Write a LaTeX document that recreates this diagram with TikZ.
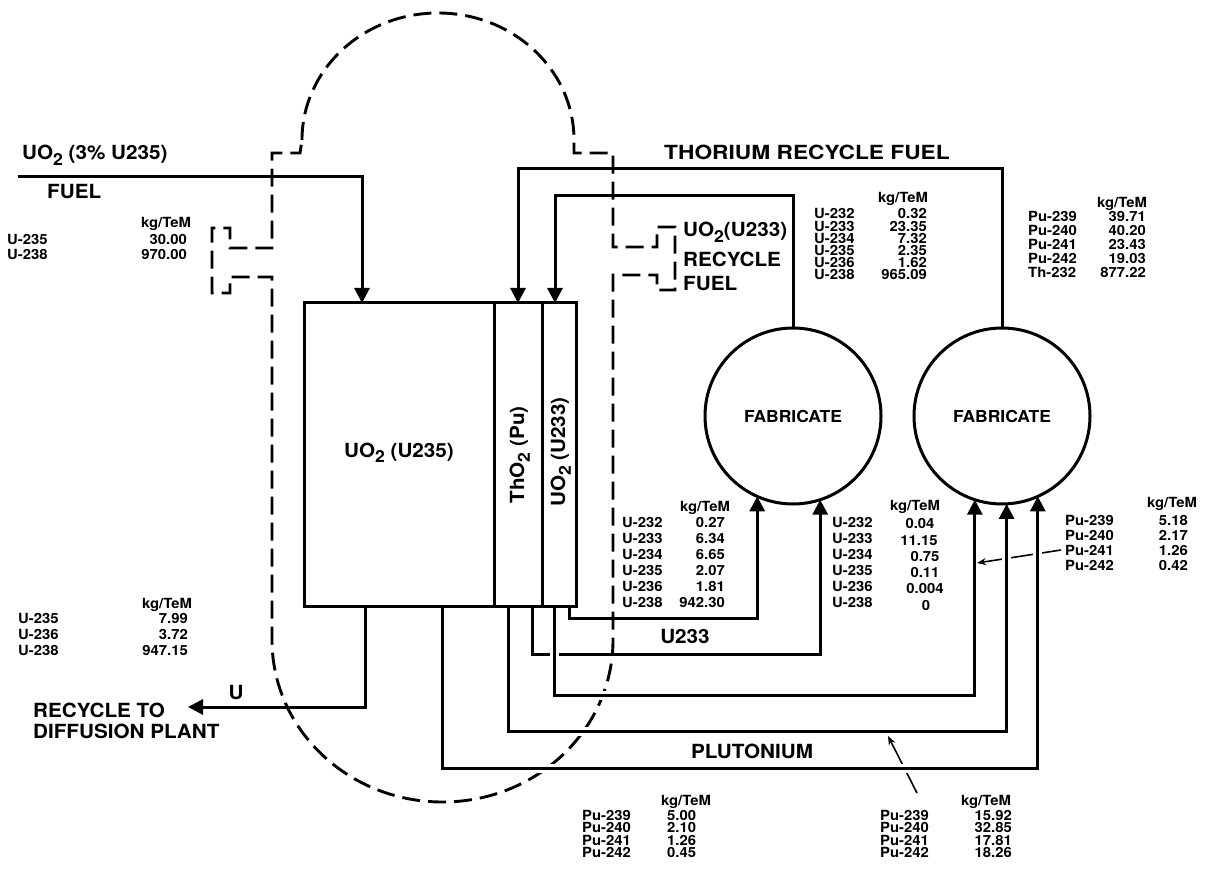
\documentclass[tikz,border=0pt]{standalone}
\usepackage{fontspec}
\setmainfont[FakeStretch=1.06]{TeX Gyre Heros}
\usepackage{graphicx}
\usetikzlibrary{arrows.meta}
\newcommand\bigf{\fontsize{19.5}{23}\selectfont\bfseries}
\newcommand\smf{\fontsize{14}{16}\selectfont\bfseries}
\newcommand\fabf{\fontsize{16.5}{19}\selectfont\bfseries}
\newcommand\lowsub[1]{\raisebox{-0.3em}{\scalebox{0.85}{#1}}}
\begin{document}
\begin{tikzpicture}[x=1pt,y=-1pt,
  ln/.style={line width=3pt, line join=miter},
  flow/.style={ln, -{Triangle[length=15pt,width=15pt]}},
  halo/.style={preaction={draw=white, line width=9pt, arrows=-, shorten >=20pt, shorten <=4pt}},
  vessel/.style={line width=2.9pt, dash pattern=on 18pt off 8pt},
  lead/.style={line width=1.6pt, -{Stealth[length=9pt,width=7pt]}},
  big/.style={font=\bigf, inner sep=0pt, text height=14pt, text depth=0pt},
  tab/.style={font=\smf, inner sep=0pt, text height=10pt, text depth=0pt},
  tl/.style={tab, anchor=west}, tr/.style={tab, anchor=east},
  sec/.style={draw, line width=3pt, inner sep=0pt, outer sep=0pt},
  fab/.style={draw, circle, line width=3pt, minimum size=176pt, inner sep=0pt, outer sep=0pt, font=\fabf}]
\fill[white] (0,0) rectangle (1210,874);
\useasboundingbox (0,0) rectangle (1210,874);

% reactor vessel (dashed)
\draw[vessel] (302,140) arc[start angle=180, end angle=360, x radius=136, y radius=127]
  -- (574,153) -- (613,153) -- (613,247) -- (657,247) -- (657,227) -- (675,227) -- (675,290)
  -- (657,290) -- (657,275) -- (613,275) -- (613,640)
  arc[start angle=0, end angle=180, x radius=170.5, y radius=162]
  -- (272,277) -- (230,277) -- (230,293) -- (212,293) -- (212,228) -- (230,228) -- (230,248)
  -- (272,248) -- (272,153) -- (300,153) -- cycle;

% core
\node[sec, minimum width=190pt, minimum height=303pt] (s1) at (399,454.5) {};
\node[sec, minimum width=48pt, minimum height=303pt] (s2) at (518,454.5) {};
\node[sec, minimum width=34pt, minimum height=303pt] (s3) at (559,454.5) {};
\node[big] (l1) at (399,450) {UO\lowsub{2} (U235)};
\node[big, rotate=90] (l2) at (517,455) {ThO\lowsub{2} (Pu)};
\node[big, rotate=90] (l3) at (558,452) {UO\lowsub{2} (U233)};

% fabrication plants
\node[fab] (fab1) at (793,416) {FABRICATE};
\node[fab] (fab2) at (1002,416) {FABRICATE};

% feed and recycle lines
\coordinate (fuelin) at (18,177);
\draw[flow] (fuelin) -| ([xshift=58pt]s1.north west);
\draw[flow] (fab2.north) -- ++(0,-159) -| ([xshift=24pt]s2.north west);
\draw[flow] (fab1.north) -- ++(0,-132) -| ([xshift=13pt]s3.north west);

\coordinate (uTip) at (188,707);
\draw[flow] ([xshift=61pt]s1.south west) |- (uTip);
\draw[flow] ([xshift=-7pt]s3.south east) -- ++(0,12) -| (fab1.246);
\draw[flow] ([xshift=-10pt]s2.south east) -- ++(0,48) -| (fab1.288);
\draw[flow, halo] ([xshift=12pt]s3.south west) -- ++(0,89) -| (fab2.252);

% table C (Pu from UO2(U233))
\node[tab] (c0) at (1172,502) {kg/TeM};
\foreach \n/\v [count=\i] in {Pu-239/5.18, Pu-240/2.17, Pu-241/1.26, Pu-242/0.42} {
  \node[tl] (c\i) at (1065,{520+(\i-1)*15}) {\n};
  \node[tr] (cv\i) at (1188,{520+(\i-1)*15}) {\v};
}
\coordinate (cTip) at (977,563);
\draw[lead] ([xshift=-4pt]c3.west) -- (cTip);

\draw[flow, halo] ([xshift=14pt]s2.south west) -- ++(0,125) -| (fab2.273);

\coordinate (gStart) at (917,793);
\coordinate (gTip) at (888,736);
\draw[lead] (gStart) -- (gTip);

\draw[flow, halo] ([xshift=138pt]s1.south west) -- ++(0,162) -| (fab2.294);

% big labels
\node[big, anchor=west] (tfeed) at (22,152.5) {UO\lowsub{2} (3\% U235)};
\node[big, anchor=west] (tfuel) at (47,192) {FUEL};
\node[big, anchor=west] (thor) at (664,153) {\scalebox{1.1}[1]{THORIUM RECYCLE FUEL}};
\node[big, anchor=west] (r1) at (683,230) {UO\lowsub{2}(U233)};
\node[big, anchor=west] (r2) at (683,260) {RECYCLE};
\node[big, anchor=west] (r3) at (683,284) {FUEL};
\node[big] (u233) at (685,636) {U233};
\node[big] (plu) at (752,751) {PLUTONIUM};
\node[big] (ulab) at (236,692) {U};
\node[big, anchor=west] (rec1) at (33,710) {RECYCLE TO};
\node[big, anchor=west] (rec2) at (33,731) {DIFFUSION PLANT};

% top-left table
\node[tab] (h0) at (166,223) {kg/TeM};
\node[tl] (a1) at (7,240) {U-235}; \node[tr] (av1) at (187,240) {30.00};
\node[tl] (a2) at (7,255) {U-238}; \node[tr] (av2) at (187,255) {970.00};

% bottom-left table
\node[tab] (b0) at (167,603) {kg/TeM};
\foreach \n/\v [count=\i] in {U-235/7.99, U-236/3.72, U-238/947.15} {
  \node[tl] (b\i) at (18,{618+(\i-1)*16}) {\n};
  \node[tr] (bv\i) at (188,{618+(\i-1)*16}) {\v};
}

% table D (U233 recycle fuel)
\node[tab] (d0) at (903,198) {kg/TeM};
\foreach \n/\v [count=\i] in {U-232/0.32, U-233/23.35, U-234/7.32, U-235/2.35, U-236/1.62, U-238/965.09} {
  \node[tl] (d\i) at (814,{214+(\i-1)*12.2}) {\n};
  \node[tr] (dv\i) at (927,{214+(\i-1)*12.2}) {\v};
}

% table E (thorium recycle fuel)
\node[tab] (e0) at (1122,203) {kg/TeM};
\foreach \n/\v [count=\i] in {Pu-239/39.71, Pu-240/40.20, Pu-241/23.43, Pu-242/19.03, Th-232/877.22} {
  \node[tl] (e\i) at (1028,{217+(\i-1)*14}) {\n};
  \node[tr] (ev\i) at (1146,{217+(\i-1)*14}) {\v};
}

% table A (U from UO2(U233))
\node[tab] (f0) at (705,506) {kg/TeM};
\foreach \n/\v [count=\i] in {U-232/0.27, U-233/6.34, U-234/6.65, U-235/2.07, U-236/1.81, U-238/942.30} {
  \node[tl] (f\i) at (622,{522+(\i-1)*16}) {\n};
  \node[tr] (fv\i) at (725,{522+(\i-1)*16}) {\v};
}

% table B (U233 from ThO2)
\node[tab] (g0) at (915,505) {kg/TeM};
\foreach \n [count=\i] in {U-232, U-233, U-234, U-235, U-236, U-238} {
  \node[tl] (g\i) at (832,{522+(\i-1)*16}) {\n};
}
\node[tab] (gv1) at (920,523) {0.04};
\node[tab] (gv2) at (919,540) {11.15};
\node[tab] (gv3) at (925,556) {0.75};
\node[tab] (gv4) at (925,572) {0.11};
\node[tab] (gv5) at (925,588) {0.004};
\node[tab] (gv6) at (926,605) {0};

% table F (Pu from UO2(U235))
\node[tab] (p0) at (686,800) {kg/TeM};
\foreach \n/\v [count=\i] in {Pu-239/5.00, Pu-240/2.10, Pu-241/1.26, Pu-242/0.45} {
  \node[tl] (p\i) at (582,{815+(\i-1)*12.6}) {\n};
  \node[tl] (pv\i) at (667,{815+(\i-1)*12.6}) {\v};
}

% table G (Pu from ThO2)
\node[tab] (q0) at (986,800) {kg/TeM};
\foreach \n/\v [count=\i] in {Pu-239/15.92, Pu-240/32.85, Pu-241/17.81, Pu-242/18.26} {
  \node[tl] (q\i) at (880,{815+(\i-1)*12.6}) {\n};
  \node[tr] (qv\i) at (1012,{815+(\i-1)*12.6}) {\v};
}
\end{tikzpicture}
\end{document}
